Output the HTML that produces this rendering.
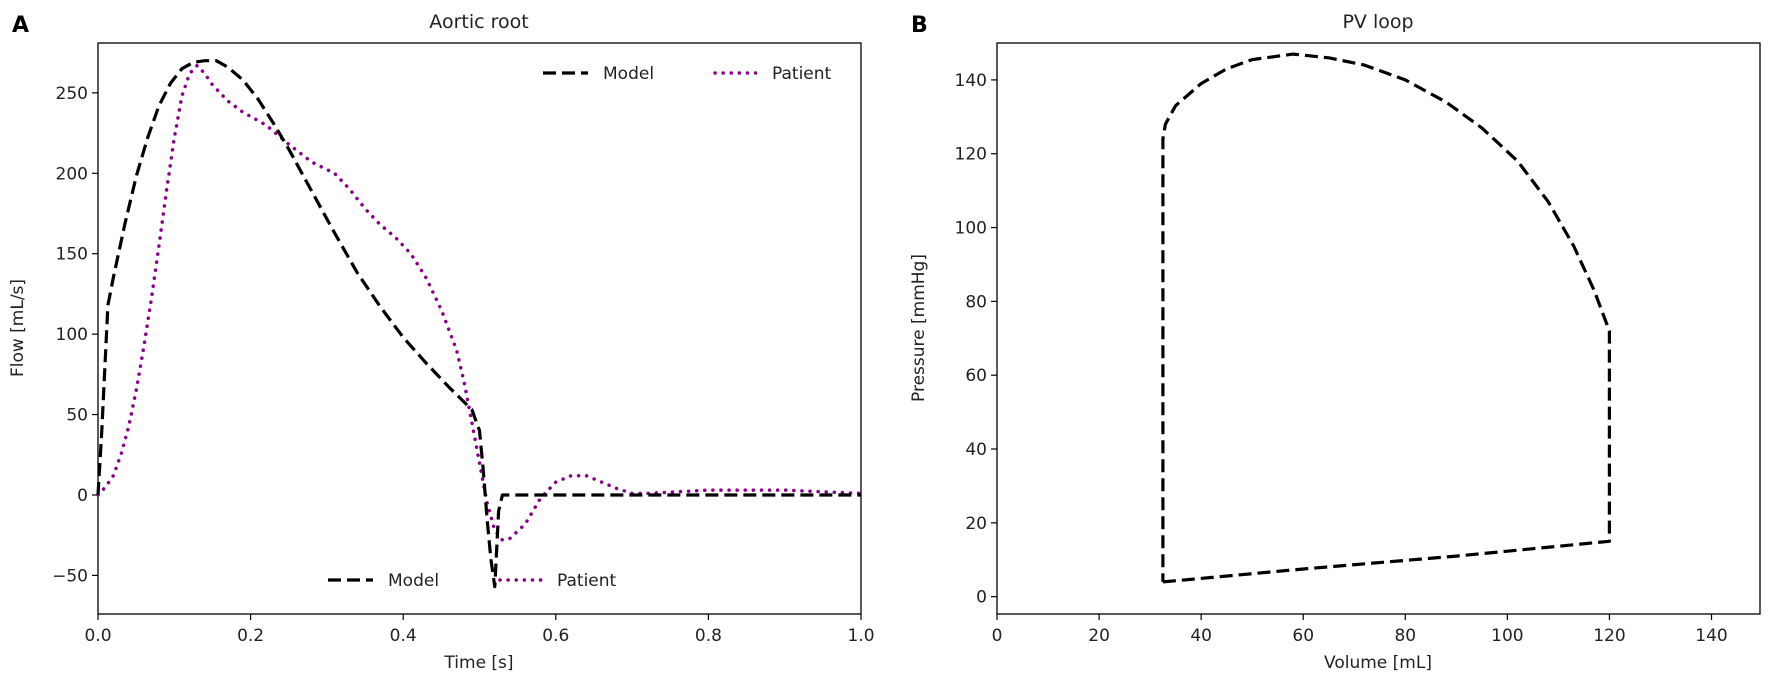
<!DOCTYPE html>
<html><head><meta charset="utf-8"><style>
body{margin:0;background:#fff;}
svg{display:block;font-family:"DejaVu Sans","Liberation Sans",sans-serif;}
</style></head><body>
<svg id="fig" width="1772" height="687" viewBox="0 0 1772 687"></svg>
<script>
// Panel A data
const flowModelT=[0,0.005,0.013,0.02,0.035,0.05,0.065,0.08,0.095,0.11,0.125,0.14,0.155,0.17,0.19,0.21,0.23,0.25,0.28,0.31,0.34,0.37,0.4,0.43,0.46,0.49,0.5,0.505,0.51,0.515,0.52,0.525,0.53,0.6,0.8,1.0];
const flowModelV=[0,40,118,135,168,198,222,242,256,265,269,270,270,266,258,246,231,215,189,163,138,117,98,82,67,53,40,15,-15,-40,-57,-10,0,0,0,0];
const flowPatT=[0,0.01,0.02,0.03,0.04,0.05,0.06,0.07,0.08,0.09,0.1,0.11,0.12,0.13,0.14,0.15,0.17,0.19,0.22,0.25,0.28,0.31,0.33,0.35,0.37,0.39,0.41,0.43,0.45,0.47,0.48,0.49,0.5,0.51,0.52,0.53,0.54,0.56,0.58,0.6,0.62,0.64,0.66,0.68,0.7,0.72,0.76,0.8,0.85,0.9,0.95,1.0];
const flowPatV=[0,5,12,25,42,65,92,122,155,190,222,248,262,267,262,255,245,238,230,218,207,200,190,178,168,160,150,135,115,90,70,45,20,-5,-22,-28,-27,-18,-2,8,12,12,8,4,1,1,2,3,3,3,2,1];
const xTicksA=[0,0.2,0.4,0.6,0.8,1.0];
const xTickLabelsA=["0.0","0.2","0.4","0.6","0.8","1.0"];
const yTicksA=[-50,0,50,100,150,200,250];
const yTickLabelsA=["\u221250","0","50","100","150","200","250"];
// Panel B data
const pvV=[32.5,60,90,120,120,120,117,113,108,102,95,88,80,72,65,58,50,45,40,35,33,32.5,32.5,32.5];
const pvP=[4,7.5,11,15,40,72,83,95,107,118,127,134,140,144,146,147,145.5,143,139,133,128,124,60,4];
const xTicksB=[0,20,40,60,80,100,120,140];
const yTicksB=[0,20,40,60,80,100,120,140];

const NS="http://www.w3.org/2000/svg";
const svg=document.getElementById('fig');
function mk(tag,attrs,parent,text){const e=document.createElementNS(NS,tag);for(const k in attrs)e.setAttribute(k,attrs[k]);if(text!==undefined)e.textContent=text;(parent||svg).appendChild(e);return e;}

const A={l:98,r:861,t:43,b:614,x0:0,x1:1,y0:-74,y1:281};
const B={l:997,r:1760,t:43,b:614,x0:0,x1:149.5,y0:-4.7,y1:150};
function sx(ax,v){return ax.l+(v-ax.x0)/(ax.x1-ax.x0)*(ax.r-ax.l);}
function sy(ax,v){return ax.b-(v-ax.y0)/(ax.y1-ax.y0)*(ax.b-ax.t);}

function drawAxes(ax,xt,xl,yt,yl,name){
  const g=mk('g',{});
  
  
  xt.forEach((v,i)=>{const x=sx(ax,v);
    const t=mk('line',{x1:x,x2:x,y1:ax.b,y2:ax.b+6,stroke:'#000','stroke-width':1.2},g);
    
    const l=mk('text',{x:x,y:ax.b+27,'font-size':17,'text-anchor':'middle',fill:'#222'},g,xl[i]);
    });
  yt.forEach((v,i)=>{const y=sy(ax,v);
    const t=mk('line',{x1:ax.l-6,x2:ax.l,y1:y,y2:y,stroke:'#000','stroke-width':1.2},g);
    
    const l=mk('text',{x:ax.l-10,y:y+6,'font-size':17,'text-anchor':'end',fill:'#222'},g,yl[i]);
    });
  const f=mk('rect',{x:ax.l,y:ax.t,width:ax.r-ax.l,height:ax.b-ax.t,fill:'none',stroke:'#000','stroke-width':1.3},g);
  
}
function line(ax,xs,ys,attrs,name){
  const d=xs.map((x,i)=>(i?'L':'M')+sx(ax,x).toFixed(1)+','+sy(ax,ys[i]).toFixed(1)).join('');
  const p=mk('path',Object.assign({d:d,fill:'none','stroke-linejoin':'round'},attrs));
  
}
const dashA={stroke:'#000','stroke-width':3.2,'stroke-dasharray':'13,6'};
const dotA={stroke:'#8b008b','stroke-width':3.5,'stroke-dasharray':'0.1,8','stroke-linecap':'round'};

drawAxes(A,xTicksA,xTickLabelsA,yTicksA,yTickLabelsA,'aortic-root');
line(A,flowPatT,flowPatV,dotA,'patient-flow-line');
line(A,flowModelT,flowModelV,dashA,'model-flow-line');
drawAxes(B,xTicksB,xTicksB.map(String),yTicksB,yTicksB.map(String),'pv-loop');
line(B,pvV,pvP,dashA,'pv-loop-line');

function legend(x,y,name){
  const g=mk('g',{});
  mk('line',Object.assign({x1:x,x2:x+45,y1:y,y2:y},dashA),g);
  mk('text',{x:x+60,y:y+6,'font-size':17,fill:'#222'},g,'Model');
  mk('line',Object.assign({x1:x+172,x2:x+215,y1:y,y2:y},dotA),g);
  mk('text',{x:x+229,y:y+6,'font-size':17,fill:'#222'},g,'Patient');
}
legend(543,73,'legend-top');
legend(328,580,'legend-bottom');

function txt(x,y,s,attrs,name){const t=mk('text',Object.assign({x:x,y:y,fill:'#222'},attrs),svg,s);}
txt(479,28,'Aortic root',{'font-size':19,'text-anchor':'middle'},'title-a');
txt(1378,28,'PV loop',{'font-size':19,'text-anchor':'middle'},'title-b');
txt(479,668,'Time [s]',{'font-size':17,'text-anchor':'middle'},'x-axis-title-a');
txt(1378,668,'Volume [mL]',{'font-size':17,'text-anchor':'middle'},'x-axis-title-b');
txt(0,0,'Flow [mL/s]',{'font-size':17,'text-anchor':'middle',transform:'translate(23,328) rotate(-90)'},'y-axis-title-a');
txt(0,0,'Pressure [mmHg]',{'font-size':17,'text-anchor':'middle',transform:'translate(924,328) rotate(-90)'},'y-axis-title-b');
txt(12,32,'A',{'font-size':22,'font-weight':'bold',fill:'#000'},'panel-label-a');
txt(911,32,'B',{'font-size':22,'font-weight':'bold',fill:'#000'},'panel-label-b');
</script>
</body></html>
